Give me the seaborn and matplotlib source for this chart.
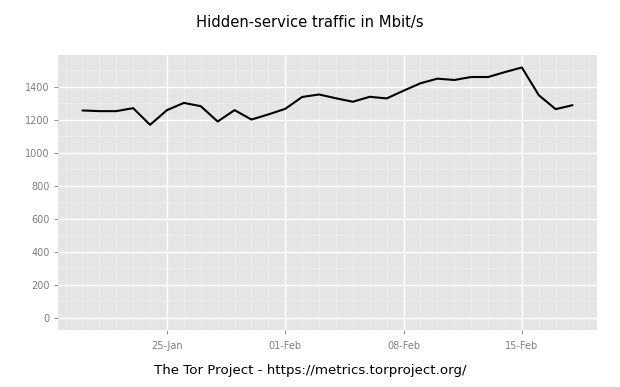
import numpy as np
import pandas as pd
import matplotlib
matplotlib.use("Agg")
import matplotlib.pyplot as plt
import matplotlib.dates as mdates
import seaborn as sns

# daily hidden-service traffic, 20 Jan - 18 Feb
dates = pd.date_range("2015-01-20", "2015-02-18", freq="D")
mbits = [1257, 1253, 1253, 1271, 1170, 1259, 1303, 1283, 1190, 1259,
         1202, 1233, 1267, 1339, 1354, 1331, 1310, 1340, 1330, 1377,
         1422, 1450, 1442, 1460, 1460, 1490, 1518, 1350, 1265, 1289]

df = pd.DataFrame({"date": dates, "mbits": mbits})

sns.set_theme(style="darkgrid", rc={
    "axes.facecolor": "#E5E5E5",
    "grid.color": "white",
    "axes.edgecolor": "#E5E5E5",
})
plt.rcParams["font.family"] = ["DejaVu Sans"]

fig = plt.figure(figsize=(6.2, 3.87), dpi=100)
ax = fig.add_axes([0.0935, 0.147, 0.8695, 0.711])

sns.lineplot(data=df, x="date", y="mbits", color="black", linewidth=1.5, ax=ax)

# ggplot-like 5% expansion
span = dates[-1] - dates[0]
ax.set_xlim(dates[0] - span * 0.05, dates[-1] + span * 0.05)
ymax = max(mbits)
ax.set_ylim(-ymax * 0.05, ymax * 1.05)

ax.set_xticks(pd.to_datetime(["2015-01-25", "2015-02-01", "2015-02-08", "2015-02-15"]))
ax.xaxis.set_major_formatter(mdates.DateFormatter("%d-%b"))
ax.xaxis.set_minor_locator(mdates.DayLocator())
ax.set_yticks(np.arange(0, 1401, 200))
ax.set_yticks(np.arange(100, 1600, 200), minor=True)

ax.grid(which="major", color="white", linewidth=1.0)
ax.grid(which="minor", color="#F0F0F0", linewidth=0.5)
ax.set_axisbelow(True)
for s in ax.spines.values():
    s.set_visible(False)

ax.tick_params(axis="both", which="major", labelsize=7, labelcolor="#7F7F7F",
               color="#7F7F7F", length=3, width=0.6, bottom=True, left=True, pad=3)
ax.tick_params(axis="x", which="major", pad=5)
ax.tick_params(which="minor", length=0)
ax.set_xlabel("")
ax.set_ylabel("")

fig.text(0.5, 0.943, "Hidden-service traffic in Mbit/s", ha="center", va="center",
         fontsize=10.6, color="black")
fig.text(0.5, 0.043, "The Tor Project - https://metrics.torproject.org/", ha="center",
         va="center", fontsize=9.6, color="black")

fig.savefig("out.png", dpi=100)
